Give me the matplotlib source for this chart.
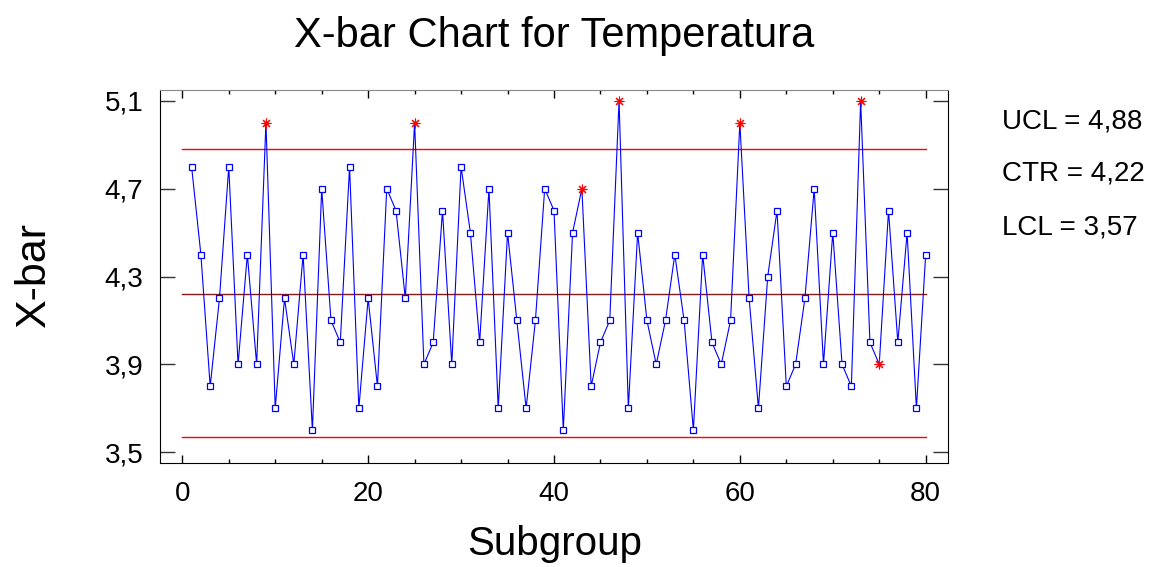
# X-bar control chart for Temperatura
import matplotlib
matplotlib.use('Agg')
import matplotlib.pyplot as plt
import numpy as np

plt.rcParams['font.family'] = ['Liberation Sans', 'DejaVu Sans']

subgroup = np.arange(1, 81)
xbar = [4.8, 4.4, 3.8, 4.2, 4.8, 3.9, 4.4, 3.9, 5.0, 3.7,
        4.2, 3.9, 4.4, 3.6, 4.7, 4.1, 4.0, 4.8, 3.7, 4.2,
        3.8, 4.7, 4.6, 4.2, 5.0, 3.9, 4.0, 4.6, 3.9, 4.8,
        4.5, 4.0, 4.7, 3.7, 4.5, 4.1, 3.7, 4.1, 4.7, 4.6,
        3.6, 4.5, 4.7, 3.8, 4.0, 4.1, 5.1, 3.7, 4.5, 4.1,
        3.9, 4.1, 4.4, 4.1, 3.6, 4.4, 4.0, 3.9, 4.1, 5.0,
        4.2, 3.7, 4.3, 4.6, 3.8, 3.9, 4.2, 4.7, 3.9, 4.5,
        3.9, 3.8, 5.1, 4.0, 3.9, 4.6, 4.0, 4.5, 3.7, 4.4]
flagged = [9, 25, 43, 47, 60, 73, 75]   # subgroups marked out of control

ucl, ctr, lcl = 4.88, 4.22, 3.57
limit_labels = ['UCL = 4,88', 'CTR = 4,22', 'LCL = 3,57']
yticks = [3.5, 3.9, 4.3, 4.7, 5.1]
ytick_labels = ['3,5', '3,9', '4,3', '4,7', '5,1']
xticks = [0, 20, 40, 60, 80]

xbar = np.array(xbar)
is_flag = np.isin(subgroup, flagged)

W, H = 1173, 567
fig = plt.figure(figsize=(W / 100, H / 100), dpi=100)
ax = fig.add_axes([160 / W, 1 - 463 / H, 788 / W, 373 / H])

ax.plot([0, 80], [ucl, ucl], color='#ff0000', lw=1.0, zorder=1)
ax.plot([0, 80], [lcl, lcl], color='#ff0000', lw=1.0, zorder=1)
ax.plot([0, 80], [ctr, ctr], color='#8b1a1a', lw=1.0, zorder=1)

ax.plot(subgroup, xbar, color='#0000ff', lw=0.8, zorder=2)
ax.plot(subgroup[~is_flag], xbar[~is_flag], ls='none', marker='s', ms=4.6,
        mfc='white', mec='#0000ff', mew=0.9, zorder=3)
ax.plot(subgroup[is_flag], xbar[is_flag], ls='none', marker=(8, 2, 0), ms=7,
        mec='#ff0000', mew=0.8, zorder=3)

ax.set_xlim(-2.4, 82.4)
ax.set_ylim(3.451, 5.149)
ax.set_xticks(xticks)
ax.set_xticks(np.arange(0, 81, 5), minor=True)
ax.set_yticks(yticks)
ax.set_yticklabels(ytick_labels)
ax.tick_params(axis='x', which='major', direction='in', length=6, width=1,
               top=True, labelsize=20, pad=13)
ax.tick_params(axis='x', which='minor', direction='in', length=3, width=1, top=True)
ax.tick_params(axis='y', which='major', direction='in', length=11, width=1,
               right=True, labelsize=20, pad=12, color='#333333')
ax.spines['top'].set_color('#888888')

# axis labels and title placed at the reference pixel positions
fig.text(555 / W, 1 - 555 / H, 'Subgroup', fontsize=29, ha='center', va='baseline')
fig.text(45 / W, 1 - 275 / H, 'X-bar', fontsize=31, rotation=90,
         rotation_mode='anchor', ha='center', va='baseline')
fig.text(554 / W, 1 - 47 / H, 'X-bar Chart for Temperatura', fontsize=30,
         ha='center', va='baseline')

for i, txt in enumerate(limit_labels):
    fig.text(1002 / W, 1 - (128 + 53 * i) / H, txt, fontsize=20,
             ha='left', va='baseline')

fig.savefig('out.png', dpi=100)
